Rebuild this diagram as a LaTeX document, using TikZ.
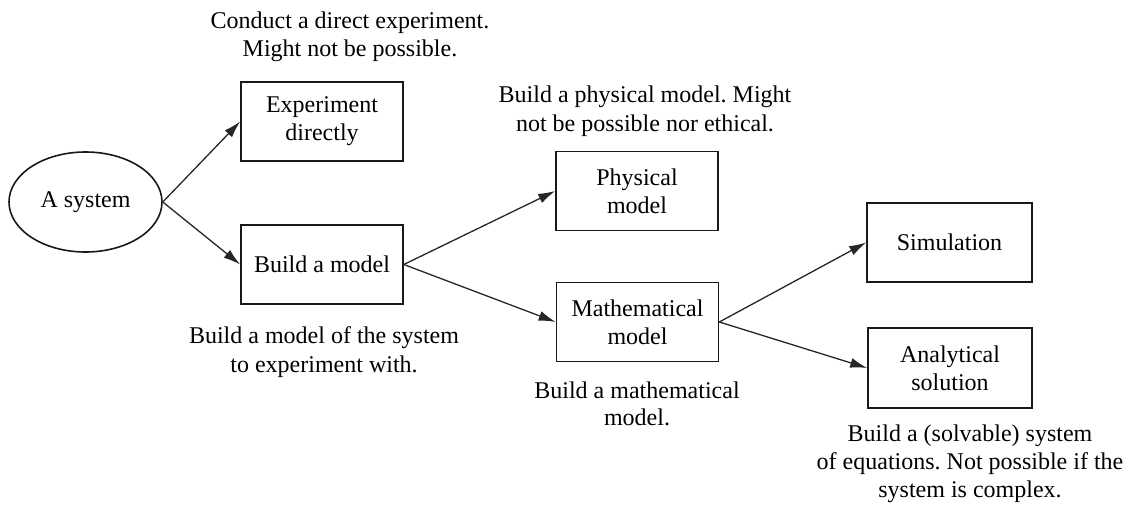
\documentclass[tikz,border=0pt]{standalone}
\usepackage{fontspec}
\setmainfont{Liberation Serif}
\usetikzlibrary{shapes.geometric,arrows.meta}
\frenchspacing

\tikzset{
  box/.style={draw=black!90, line width=1.6pt, rectangle, minimum width=162pt,
              minimum height=79pt, align=center, inner sep=0pt,
              font=\fontsize{24}{28}\selectfont},
  oval/.style={draw=black!90, line width=1.6pt, ellipse, minimum width=153pt,
               minimum height=100pt, inner sep=0pt, font=\fontsize{24}{28}\selectfont},
  note/.style={align=center, inner sep=0pt, font=\fontsize{24}{28.5}\selectfont},
  link/.style={draw=black!85, line width=1.3pt, -{Latex[length=17pt,width=10pt]}}
}

\begin{document}
\begin{tikzpicture}[x=1pt, y=-1pt]
  \useasboundingbox (0,0) rectangle (1138,506);

  % main chain of nodes
  \node[oval] (sys) at (85.5,202) {A system};
  \node[box] (exp) at (322,121.5) {Experiment\\directly};
  \node[box] (bm) at (322,264.5) {Build a model};
  \node[box] (phys) at (637,191) {Physical\\model};
  \node[box] (math) at (637.5,322) {Mathematical\\model};
  \node[box, minimum width=165pt] (sim) at (949.5,242.5) {Simulation};
  \node[box, minimum width=164pt, minimum height=80pt] (ana) at (950,368) {Analytical\\solution};

  % explanatory notes
  \node[note] (nexp) at (350,37) {Conduct a direct experiment.\\Might not be possible.};
  \node[note] (nphys) at (645,111) {Build a physical model. Might\\not be possible nor ethical.};
  \node[note] (nbm) at (324,352) {Build a model of the system\\to experiment with.};
  \node[note, font=\fontsize{24}{27}\selectfont] (nmath) at (637,404) {Build a mathematical\\model.};
  \node[note, font=\fontsize{24}{28}\selectfont] (nana) at (970,464) {Build a (solvable) system\\of equations. Not possible if the\\system is complex.};

  % connectors
  \draw[link] (sys.east) -- (exp.west);
  \draw[link] (sys.east) -- (bm.west);
  \draw[link] (bm.east) -- (phys.west);
  \draw[link] (bm.east) -- (math.west);
  \draw[link] (math.east) -- (sim.west);
  \draw[link] (math.east) -- (ana.west);
\end{tikzpicture}
\end{document}
